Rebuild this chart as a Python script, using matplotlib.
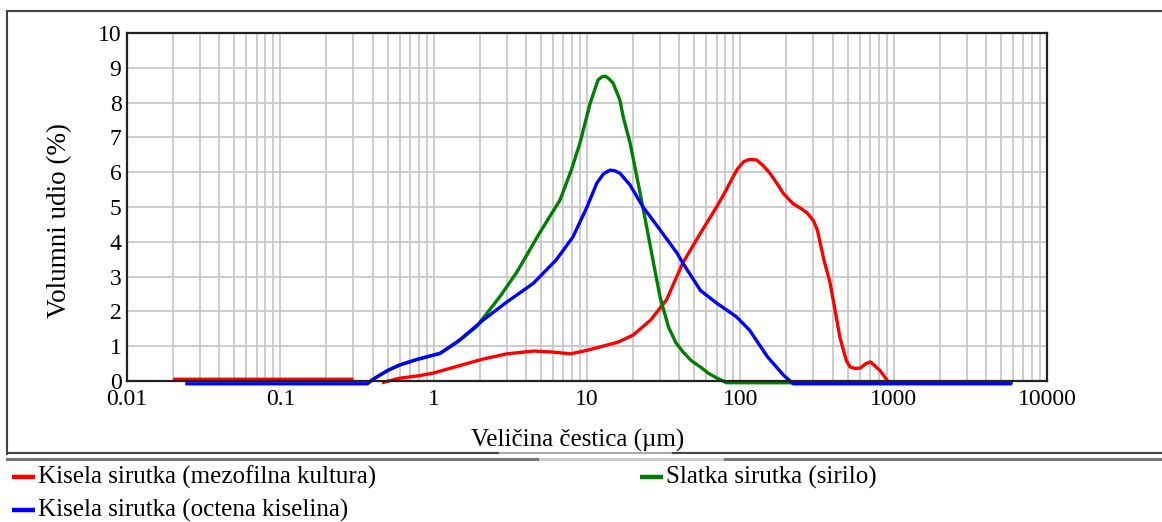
import numpy as np
import matplotlib
matplotlib.use('Agg')
import matplotlib.pyplot as plt
from matplotlib.lines import Line2D
from matplotlib.ticker import LogLocator, FixedLocator, NullFormatter

plt.rcParams['font.family'] = ['Liberation Serif', 'DejaVu Serif']

# particle size (um) and volume share (%)
red_x = [0.02, 0.3, np.nan, 0.46, 0.6, 0.8, 1.0, 1.5, 2.1, 3.0, 4.5, 6.0, 7.8, 10, 12.2, 16, 20,
         26, 33, 42, 55, 70, 80, 88, 96, 105, 115, 128, 140, 156, 175, 190, 220, 250, 273, 300,
         318, 350, 385, 446, 490, 520, 560, 605, 660, 705, 760, 815, 915]
red_y = [0.05, 0.05, np.nan, -0.05, 0.08, 0.15, 0.23, 0.45, 0.63, 0.78, 0.86, 0.83, 0.78, 0.88,
         0.98, 1.12, 1.32, 1.75, 2.33, 3.38, 4.25, 5.0, 5.45, 5.8, 6.1, 6.3, 6.37, 6.35, 6.2,
         5.97, 5.65, 5.4, 5.1, 4.95, 4.83, 4.6, 4.34, 3.5, 2.82, 1.26, 0.6, 0.4, 0.36, 0.37, 0.5,
         0.55, 0.42, 0.3, 0.0]

green_x = [0.385, 0.5, 0.6, 0.78, 1.1, 1.41, 1.9, 2.7, 3.5, 4.9, 6.67, 7.9, 9.0, 10.5, 11.8,
           12.5, 13.1, 13.8, 14.8, 16.4, 17.2, 19.1, 22.2, 24.5, 26.9, 30, 34, 38, 42, 48, 55,
           62, 70, 81, 6000]
green_y = [0.0, 0.3, 0.46, 0.62, 0.8, 1.1, 1.56, 2.42, 3.14, 4.25, 5.2, 6.06, 6.84, 7.99, 8.65,
           8.74, 8.76, 8.7, 8.56, 8.07, 7.6, 6.84, 5.4, 4.43, 3.48, 2.4, 1.55, 1.1, 0.85, 0.58,
           0.4, 0.22, 0.09, -0.05, -0.05]

blue_x = [0.024, 0.37, 0.42, 0.5, 0.6, 0.78, 1.1, 1.48, 2.1, 3.0, 4.45, 6.3, 8.1, 10, 11.6,
          12.8, 14.1, 15.2, 16.4, 19.1, 23.2, 30, 38.6, 42.3, 55, 70, 94, 115, 150, 191, 221,
          5900]
blue_y = [-0.08, -0.08, 0.1, 0.3, 0.46, 0.62, 0.79, 1.18, 1.75, 2.27, 2.8, 3.48, 4.14, 5.0,
          5.69, 5.95, 6.06, 6.04, 5.97, 5.63, 5.0, 4.34, 3.68, 3.38, 2.6, 2.24, 1.85, 1.46, 0.7,
          0.17, -0.08, -0.08]

series = [
    ('Kisela sirutka (mezofilna kultura)', '#ff0000', red_x, red_y),
    ('Slatka sirutka (sirilo)', '#008000', green_x, green_y),
    ('Kisela sirutka (octena kiselina)', '#0000ff', blue_x, blue_y),
]

x_ticks = [0.01, 0.1, 1, 10, 100, 1000, 10000]
x_tick_labels = ['0.01', '0.1', '1', '10', '100', '1000', '10000']
y_ticks = list(range(0, 11))

W, H = 1162, 522
fig = plt.figure(figsize=(W / 100, H / 100), dpi=100)
ax = fig.add_axes([127 / W, 1 - 381 / H, 920 / W, 348 / H])

for label, color, xs, ys in series:
    ax.plot(xs, ys, color=color, lw=2.4, solid_capstyle='butt', solid_joinstyle='round')

ax.set_xscale('log')
ax.set_xlim(0.01, 10000)
ax.set_ylim(0, 10)
ax.xaxis.set_major_locator(FixedLocator(x_ticks))
ax.set_xticklabels(x_tick_labels)
ax.xaxis.set_minor_locator(LogLocator(base=10, subs=np.arange(2, 10), numticks=20))
ax.xaxis.set_minor_formatter(NullFormatter())
ax.set_yticks(y_ticks)
ax.grid(True, which='both', axis='x', color='#c8c8c8', lw=1.3)
ax.grid(True, which='major', axis='y', color='#c8c8c8', lw=1.3)
ax.set_axisbelow(True)
ax.tick_params(which='both', length=0, labelsize=17)
ax.tick_params(axis='x', pad=6)
ax.tick_params(axis='y', pad=4)
for s in ax.spines.values():
    s.set_linewidth(1.6)
    s.set_color('#222222')
for line in ax.get_lines():
    line.set_clip_on(False)

ax.set_ylabel('Volumni udio (%)', fontsize=19.5)
ax.yaxis.set_label_coords((72 - 127) / 920, (381 - 221) / 348)
fig.text(578 / W, 1 - 440 / H, 'Veličina čestica (µm)', fontsize=18, ha='center', va='center')


def fx(px):
    return px / W


def fy(py):
    return 1 - py / H


# outer frame and separator
fig.add_artist(Line2D([fx(7), fx(1162)], [fy(11), fy(11)], color='#444444', lw=1.5))
fig.add_artist(Line2D([fx(7), fx(7)], [fy(11), fy(454)], color='#444444', lw=1.5))
fig.add_artist(Line2D([fx(7), fx(500)], [fy(453), fy(453)], color='#444444', lw=1.5))
fig.add_artist(Line2D([fx(500), fx(673)], [fy(453), fy(453)], color='#aaaaaa', lw=1.5))
fig.add_artist(Line2D([fx(673), fx(1162)], [fy(453), fy(453)], color='#444444', lw=1.5))
fig.add_artist(Line2D([fx(7), fx(540)], [fy(459), fy(459)], color='#777777', lw=2.2))
fig.add_artist(Line2D([fx(540), fx(725)], [fy(459), fy(459)], color='#cccccc', lw=2.2))
fig.add_artist(Line2D([fx(725), fx(1162)], [fy(459), fy(459)], color='#777777', lw=2.2))

# legend drawn by hand to match the reference placement
legend_pos = [(12, 477), (640, 477), (12, 510)]
for (label, color, _, _), (lx, ly) in zip(series, legend_pos):
    fig.add_artist(Line2D([fx(lx), fx(lx + 23)], [fy(ly), fy(ly)], color=color, lw=3.2,
                          solid_capstyle='butt'))
    fig.text(fx(lx + 26), fy(ly), label, fontsize=18, ha='left', va='center')

fig.savefig('out.png', dpi=100)
